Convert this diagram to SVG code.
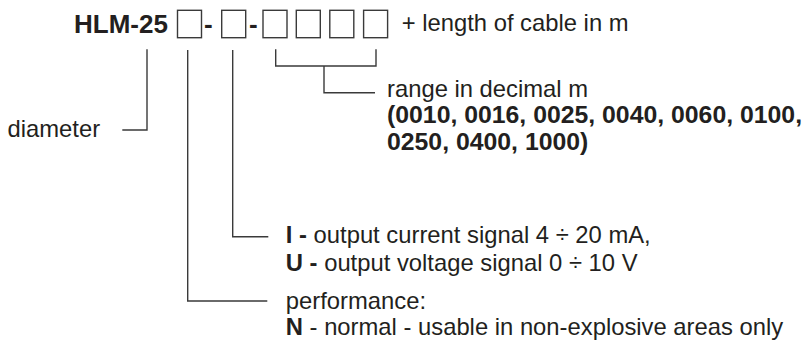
<svg xmlns="http://www.w3.org/2000/svg" width="805" height="342" viewBox="0 0 805 342">
<style>
text{font-family:"Liberation Sans",Arial,sans-serif;fill:#231f20;font-size:23.8px}
.b{font-weight:bold}
.big{font-weight:bold;font-size:26px}
.num{font-weight:bold;font-size:24.8px}
.box{fill:#fff;stroke:#3a3a3a;stroke-width:1.4}
.ln{fill:none;stroke:#3a3a3a;stroke-width:1.4}
</style>
<rect width="805" height="342" fill="#fff"/>
<g id="code">
<text x="74" y="33.3" class="big">HLM-25</text>
<rect class="box" x="177.5" y="10.3" width="24" height="27.4"/>
<text x="204" y="33.3" class="big">-</text>
<rect class="box" x="221.7" y="10.3" width="24" height="27.4"/>
<text x="249" y="33.3" class="big">-</text>
<rect class="box" x="263" y="10.3" width="24" height="27.4"/>
<rect class="box" x="296.3" y="10.3" width="24" height="27.4"/>
<rect class="box" x="329.8" y="10.3" width="24" height="27.4"/>
<rect class="box" x="363.6" y="10.3" width="24" height="27.4"/>
<text x="401.7" y="31">+ length of cable in m</text>
</g>
<g id="connectors">
<polyline class="ln" points="147,49.3 147,130 122.3,130"/>
<polyline class="ln" points="187.7,50 187.7,301 267.3,301"/>
<polyline class="ln" points="232.7,50 232.7,236.7 268.3,236.7"/>
<polyline class="ln" points="275.7,49.3 275.7,66 376,66 376,49.3"/>
<polyline class="ln" points="324,66 324,92.7 375,92.7"/>
</g>
<g id="diameter">
<text x="7.5" y="136.7">diameter</text>
</g>
<g id="range">
<text x="387" y="96.7">range in decimal m</text>
<text x="387" y="122.5" class="num">(0010, 0016, 0025, 0040, 0060, 0100,</text>
<text x="387" y="150" class="num">0250, 0400, 1000)</text>
</g>
<g id="output">
<text x="285.8" y="243"><tspan class="b">I - </tspan>output current signal 4 ÷ 20 mA,</text>
<text x="285.8" y="271"><tspan class="b">U - </tspan>output voltage signal 0 ÷ 10 V</text>
</g>
<g id="performance">
<text x="285.8" y="308.5">performance:</text>
<text x="285.8" y="335.3"><tspan class="b">N</tspan> - normal - usable in non-explosive areas only</text>
</g>
</svg>
